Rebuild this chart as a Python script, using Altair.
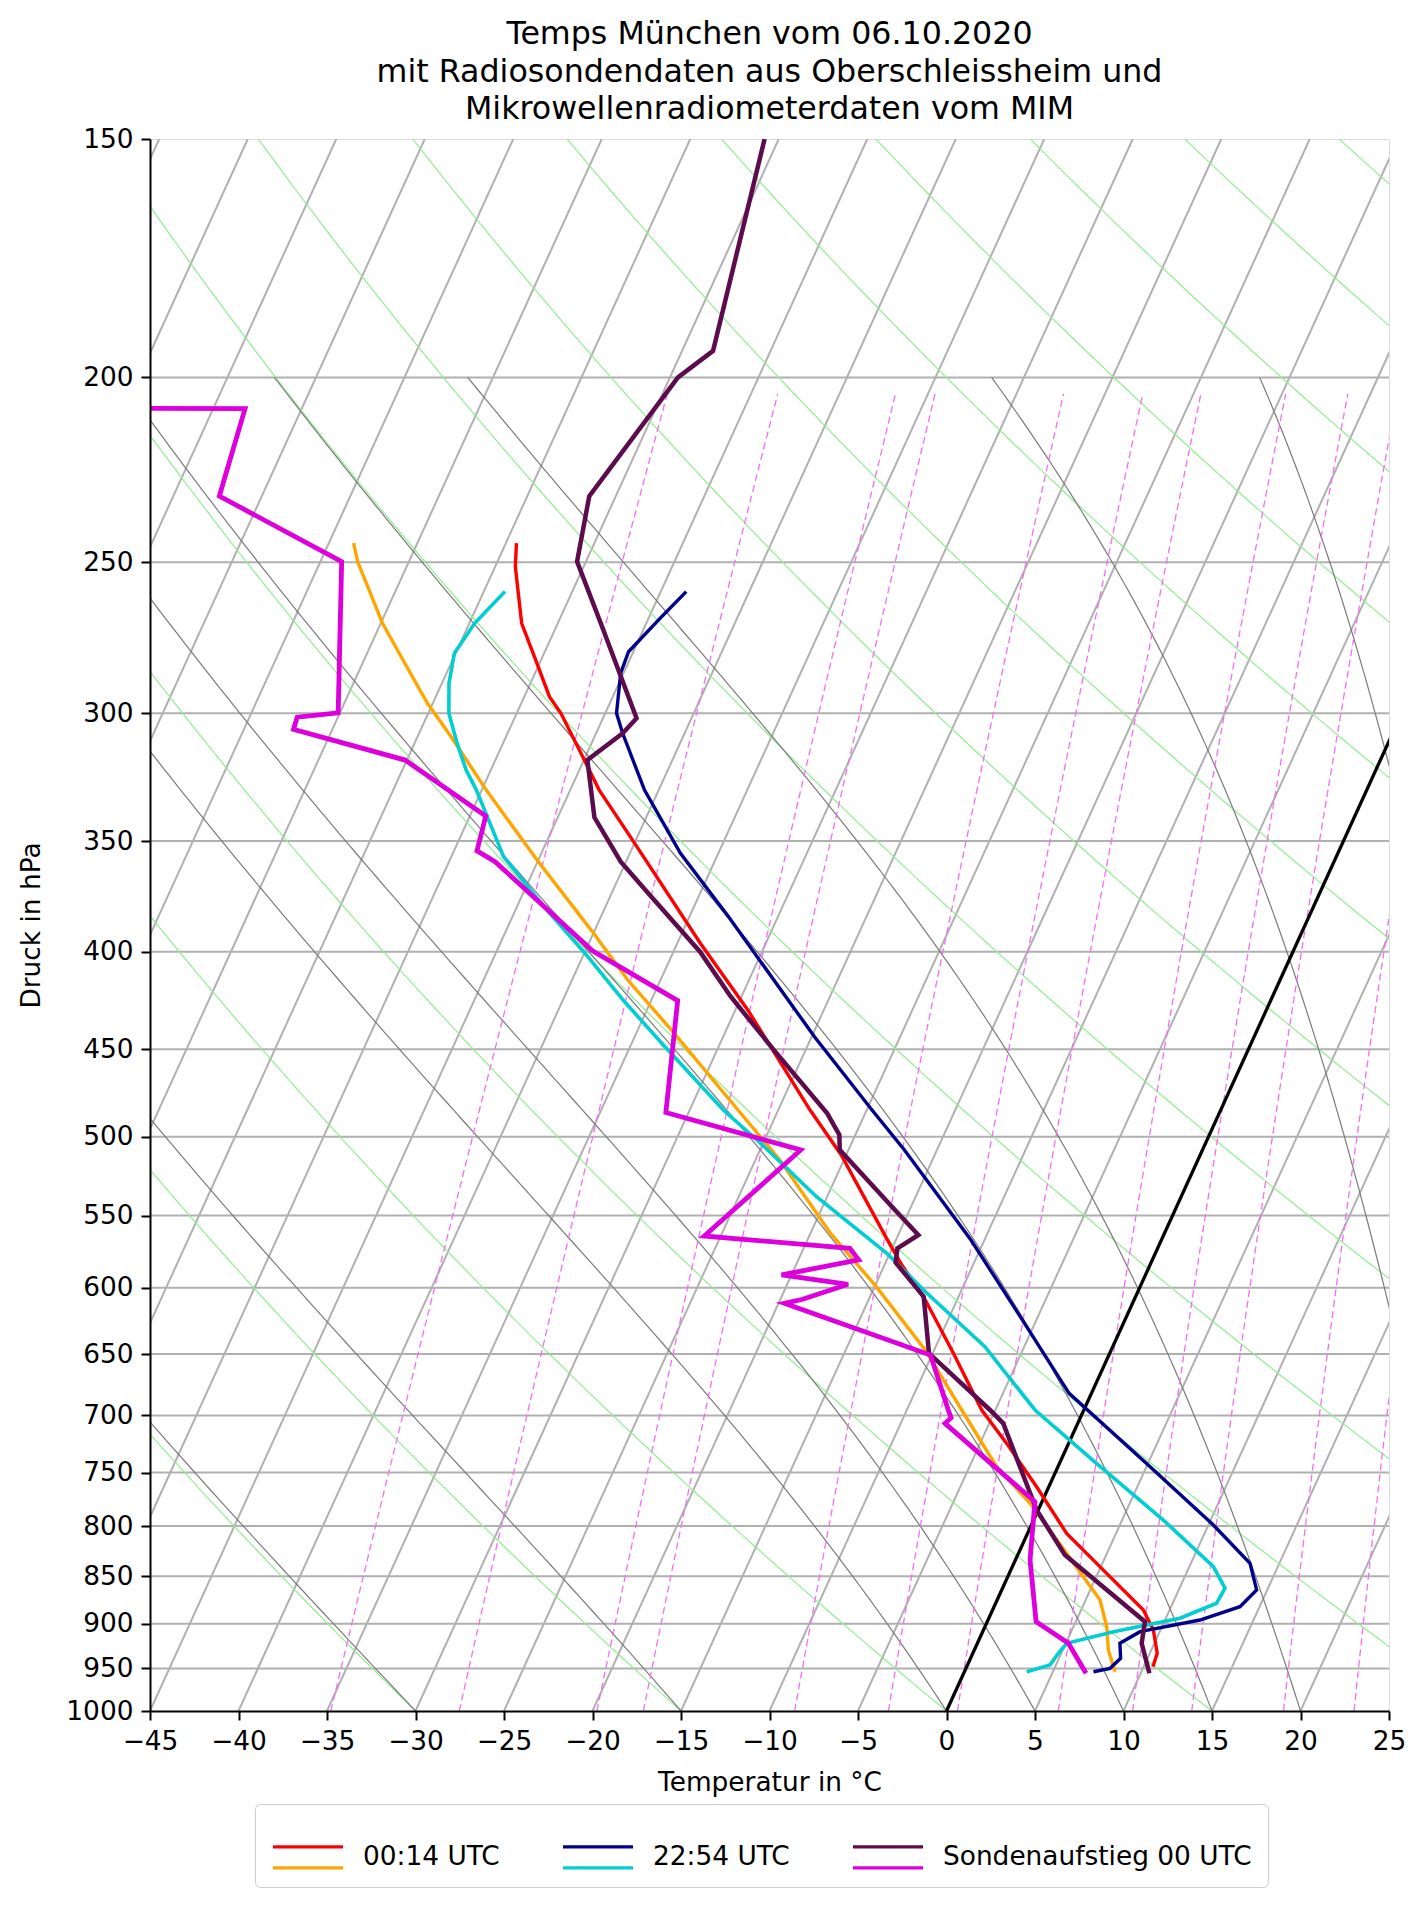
import numpy as np
import pandas as pd
import altair as alt

FONT = "DejaVu Sans"
SKEW = 21.36  # horizontal shift in degC per unit of ln(1000/p) (skew-T projection)

# ---------------- sounding / radiometer profiles (p in hPa, T in degC) ----------------
NAMES = ["00:14 UTC", "22:54 UTC", "Sondenaufstieg 00 UTC"]

P_0014_T = [948, 932.8, 906.9, 885.2, 847, 807.1, 762.9, 724, 695.4, 649.4, 609, 582.6, 565.3,
            511.2, 484.2, 429.1, 395.9, 349.5, 329.1, 314.8, 300, 294, 281.3, 269.1, 251.3, 244.3]
T_0014 = [10.52, 10.42, 9.6, 8.52, 5.5, 2.21, -0.69, -3.5, -5.77, -8.83, -11.79, -14.12, -15.57,
          -20.28, -23.2, -29.3, -33.7, -40.2, -43.36, -45.34, -47.5, -48.58, -50.3, -52.04, -53.86, -54.4]

P_0014_TD = [953.7, 929, 903.3, 874.6, 826.7, 778.3, 744.6, 695.4, 646.8, 599.2, 561.9, 514.3,
             484.2, 439.6, 413.9, 390.4, 358.1, 329.1, 308.6, 296.4, 281.3, 269.1, 249.8, 244.3]
TD_0014 = [8.51, 7.57, 6.88, 5.81, 2.72, -0.63, -3.47, -6.9, -10.51, -14.91, -18.86, -23.62,
           -27.27, -33.1, -36.85, -40.1, -45.07, -49.74, -53.1, -55.3, -57.8, -59.9, -62.9, -63.6]

P_2254_T = [953.7, 949.8, 938.4, 921.5, 908.7, 896, 881.7, 864.1, 836.7, 798.9, 741.7, 681.6, 621.3,
            566.4, 508.1, 484.2, 443.2, 383.4, 355.2, 329.1, 318.6, 307.3, 300, 285.8, 278.5, 267.5, 259]
T_2254 = [7.29, 8.14, 8.48, 8.05, 8.89, 11.97, 13.89, 14.4, 13.34, 10.28, 4.92, -1.26, -6.0,
          -10.76, -16.84, -19.7, -24.84, -32.8, -37.14, -40.8, -42.08, -43.5, -44.36, -45.16, -45.27, -44.35, -43.56]

P_2254_TD = [953.7, 946, 932.8, 921.5, 908.7, 894.1, 878.1, 862.3, 840.2, 794.2, 741.7, 695.4, 644.3,
             602.9, 575.6, 537.6, 504, 484.2, 446.7, 424, 400.7, 380.3, 356.6, 329.1, 321.2, 311, 300,
             289.3, 279, 269.1, 259]
TD_2254 = [3.52, 4.66, 4.83, 5.05, 7.39, 10.8, 12.48, 12.57, 11.36, 7.33, 2.09, -2.76, -7.22,
           -12.0, -15.17, -20.6, -25.14, -28.1, -33.3, -36.6, -39.96, -43.24, -47.05, -50.3, -51.4, -52.6, -53.83,
           -54.6, -55.07, -54.7, -53.8]

P_SONDE_T = [955.5, 921.5, 897.8, 828.4, 784.6, 706.7, 695.4, 649.4, 606.5, 582.1, 572.1, 563, 544.1,
             508, 499, 486.1, 450.3, 422.3, 400, 373.5, 358.8, 340.1, 317.4, 307.3, 301.8, 269.1, 249.8,
             230.8, 200, 193.7, 150]
T_SONDE = [10.49, 9.28, 8.91, 2.67, -0.09, -4.21, -5.3, -10.21, -11.97, -14.43, -14.7, -13.86, -16.08,
           -20.5, -20.9, -22.15, -26.8, -30.6, -33.5, -37.8, -40.3, -42.93, -44.8, -43.5, -43.1, -47.57, -50.5,
           -51.5, -49.55, -48.25, -50.8]

P_SONDE_TD = [955.5, 921.5, 897.8, 833.5, 776.8, 706.7, 702, 695.4, 650.8, 611.4, 608.4, 597.5, 590.8,
              580.2, 572.1, 563.7, 508.1, 485.7, 424.3, 399.5, 358.8, 354.1, 339.6, 317.4, 305.8, 301.4,
              299.8, 249.8, 230.8, 207.7, 207.2]
TD_SONDE = [6.91, 5.14, 2.76, 0.83, -0.40, -7.50, -7.3, -7.66, -10.08, -19.67, -18.74, -16.56, -20.56,
            -16.59, -17.39, -25.93, -22.7, -31.28, -33.5, -39.6, -47.4, -48.7, -49.1, -55.1, -62.2, -62.3,
            -60.1, -63.8, -72.4, -73.2, -100]

# ---------------- diagram background definitions ----------------
P_TICKS = list(range(150, 1001, 50))
T_TICKS = list(range(-45, 26, 5))
ISOTHERMS = list(range(-85, 26, 5))
DRY_T0 = list(range(-45, 166, 15))
MOIST_T0 = [-30, -15, 0, 5, 10, 15, 20, 30, 35]
MIXING_GKG = [0.2, 0.4, 0.8, 1, 2, 3, 4, 6, 8, 10, 14, 18]

T_COLORS = ["#ff0000", "#00008b", "#5c0b4c"]
TD_COLORS = ["#ffa500", "#00ced1", "#dd00dd"]

Rd, Cp, Lv, EPS = 287.04749, 1004.6662, 2.50084e6, 0.6219569


def sat_vp(tk):
    return 6.112 * np.exp(17.67 * (tk - 273.15) / (tk - 29.65))


def moist_curve(t0, p_top=200.0, n=120):
    lnp = np.linspace(np.log(1000.0), np.log(p_top), n + 1)

    def f(T, lp):
        p = np.exp(lp)
        es = sat_vp(T)
        rs = EPS * es / (p - es)
        return (Rd * T + Lv * rs) / (Cp + Lv * Lv * rs * EPS / (Rd * T * T))

    T = t0 + 273.15
    rows = [(1000.0, float(t0))]
    for k in range(n):
        h = lnp[k + 1] - lnp[k]
        k1 = f(T, lnp[k])
        k2 = f(T + h * k1 / 2, lnp[k] + h / 2)
        k3 = f(T + h * k2 / 2, lnp[k] + h / 2)
        k4 = f(T + h * k3, lnp[k + 1])
        T = T + h * (k1 + 2 * k2 + 2 * k3 + k4) / 6
        rows.append((float(np.exp(lnp[k + 1])), float(T - 273.15)))
    return rows


def frame(kind, key, rows):
    return pd.DataFrame({"kind": kind, "id": f"{kind}{key}",
                         "p": [r[0] for r in rows], "T": [r[1] for r in rows],
                         "i": range(len(rows))})


bg = []
p_dry = np.geomspace(1000, 150, 90)
for t0 in DRY_T0:
    th = t0 + 273.15
    bg.append(frame("dry", t0, [(p, th * (p / 1000.0) ** (Rd / Cp) - 273.15) for p in p_dry]))
for t0 in MOIST_T0:
    bg.append(frame("moist", t0, moist_curve(t0)))
p_mix = np.geomspace(1000, 204, 40)
for w in MIXING_GKG:
    ww = w / 1000.0
    rows = []
    for p in p_mix:
        e = p * ww / (EPS + ww)
        l = np.log(e / 6.112)
        rows.append((p, 243.5 * l / (17.67 - l)))
    bg.append(frame("mix", w, rows))
bg = pd.concat(bg, ignore_index=True)

# dew-point series get an invisible suffix so their legend stays separate from the temperature legend
NAMES_TD = [n + "\u200b" for n in NAMES]


def prof(name, P, T):
    return pd.DataFrame({"series": name, "p": P, "T": T, "i": range(len(P))})


prof_T = pd.concat([prof(NAMES[0], P_0014_T, T_0014), prof(NAMES[1], P_2254_T, T_2254),
                    prof(NAMES[2], P_SONDE_T, T_SONDE)], ignore_index=True)
prof_TD = pd.concat([prof(NAMES_TD[0], P_0014_TD, TD_0014), prof(NAMES_TD[1], P_2254_TD, TD_2254),
                     prof(NAMES_TD[2], P_SONDE_TD, TD_SONDE)], ignore_index=True)

# ---------------- scales & axes ----------------
x_scale = alt.Scale(domain=[-45, 25], nice=False, zero=False)
y_scale = alt.Scale(type="log", domain=[150, 1000], reverse=True, nice=False)

x_axis = alt.Axis(values=T_TICKS, title="Temperatur in °C", grid=False, domain=True,
                  domainColor="black", domainWidth=2, tickColor="black", tickWidth=2, tickSize=9,
                  labelPadding=8, labelFont=FONT, labelFontSize=26.4, labelColor="black",
                  labelFlush=False, labelOverlap=False, titleFont=FONT, titleFontSize=26.4,
                  titleFontWeight="normal", titleColor="black", titlePadding=15, zindex=1)
y_axis = alt.Axis(values=P_TICKS, format="d", title="Druck in hPa", grid=False, domain=True,
                  domainColor="black", domainWidth=2, tickColor="black", tickWidth=2, tickSize=9,
                  labelPadding=8, labelFont=FONT, labelFontSize=26.4, labelColor="black",
                  labelFlush=False, labelOverlap=False, titleFont=FONT, titleFontSize=26.4,
                  titleFontWeight="normal", titleColor="black", titlePadding=20, zindex=1)


def X(field):
    return alt.X(f"{field}:Q", scale=x_scale, axis=x_axis)


def Y(field):
    return alt.Y(f"{field}:Q", scale=y_scale, axis=y_axis)


skew_expr = f"datum.T + {SKEW} * log(1000 / datum.p)"

# horizontal pressure grid
grid_h = alt.Chart(pd.DataFrame({"p": P_TICKS[1:-1]})).mark_rule(
    color="#b0b0b0", strokeWidth=2).encode(y=Y("p"))

# skewed isotherms (x grid)
iso_df = pd.DataFrame({"T": ISOTHERMS})
isotherms = alt.Chart(iso_df).transform_calculate(
    x1="datum.T", x2=f"datum.T + {SKEW} * log(1000 / 150)", p1="1000", p2="150"
).mark_rule(color="#b0b0b0", strokeWidth=2, clip=True).encode(
    x=X("x1"), x2="x2:Q", y=Y("p1"), y2="p2:Q")


def bg_layer(kind, **mark):
    return alt.Chart(bg).transform_filter(alt.datum.kind == kind).transform_calculate(
        X=skew_expr).mark_line(clip=True, **mark).encode(
        x=X("X"), y=Y("p"), detail="id:N", order="i:Q")


dry = bg_layer("dry", color="#90ee90", strokeWidth=1.2)
moist = bg_layer("moist", color="#7a7a7a", strokeWidth=1.2)
mix = bg_layer("mix", color="#f070f0", strokeWidth=1.3, strokeDash=[7, 4])

zero_iso = alt.Chart(pd.DataFrame({"T": [0]})).transform_calculate(
    x1="datum.T", x2=f"datum.T + {SKEW} * log(1000 / 150)", p1="1000", p2="150"
).mark_rule(color="black", strokeWidth=3.3, clip=True).encode(
    x=X("x1"), x2="x2:Q", y=Y("p1"), y2="p2:Q")

leg_common = dict(title=None, orient="none", legendX=105, legendY=1665, direction="horizontal",
                  symbolSize=4900, symbolStrokeWidth=3.3, labelFont=FONT, labelFontSize=26.4,
                  labelColor="black", labelOffset=18, labelLimit=800, columnPadding=56, padding=16)
leg_T = alt.Legend(symbolType="M-1,-0.3L1,-0.3", strokeColor="#cccccc", cornerRadius=5, **leg_common)
leg_TD = alt.Legend(symbolType="M-1,0.3L1,0.3", labelOpacity=0, **leg_common)

col_T = alt.Color("series:N", scale=alt.Scale(domain=NAMES, range=T_COLORS), legend=leg_T)
col_TD = alt.Stroke("series:N", scale=alt.Scale(domain=NAMES_TD, range=TD_COLORS), legend=leg_TD)


def prof_layer(df, name, enc, width):
    return alt.Chart(df).transform_filter(alt.datum.series == name).transform_calculate(
        X=skew_expr).mark_line(clip=True, strokeWidth=width).encode(
        x=X("X"), y=Y("p"), order="i:Q", **enc)


lines = [
    prof_layer(prof_T, NAMES[0], {"color": col_T}, 3.4),
    prof_layer(prof_TD, NAMES_TD[0], {"stroke": col_TD}, 3.4),
    prof_layer(prof_T, NAMES[1], {"color": col_T}, 3.4),
    prof_layer(prof_TD, NAMES_TD[1], {"stroke": col_TD}, 3.6),
    prof_layer(prof_T, NAMES[2], {"color": col_T}, 4.5),
    prof_layer(prof_TD, NAMES_TD[2], {"stroke": col_TD}, 4.8),
]

chart = alt.layer(grid_h, isotherms, dry, moist, mix, zero_iso, *lines).properties(
    width=1239, height=1572,
    title=alt.TitleParams(
        text=["Temps München vom 06.10.2020",
              "mit Radiosondendaten aus Oberschleissheim und",
              "Mikrowellenradiometerdaten vom MIM"],
        font=FONT, fontSize=31.7, fontWeight="normal", lineHeight=37.5, offset=0,
        anchor="middle", color="black"),
    autosize=alt.AutoSizeParams(type="none"),
    padding={"left": 142, "top": 131, "right": 30, "bottom": 188},
).configure_view(stroke="black", strokeWidth=2).configure(background="white")

chart.save("out.html", embed_options={"renderer": "svg", "actions": False})
